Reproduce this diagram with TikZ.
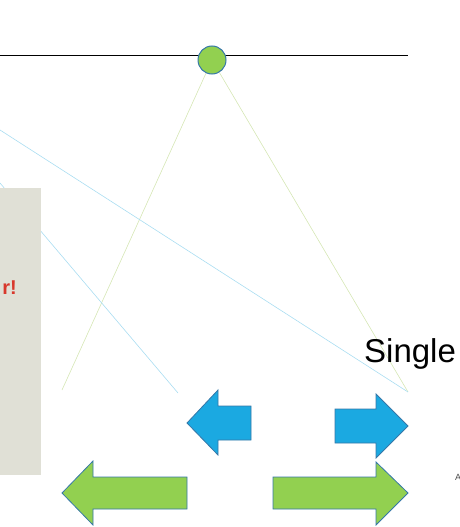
\documentclass[tikz,border=0pt]{standalone}
\usepackage{fontspec}
\setmainfont{Liberation Sans}
\usepackage{xcolor}
\usetikzlibrary{positioning}

\definecolor{hubgreen}{HTML}{92D050}
\definecolor{arrowblue}{HTML}{1BA9E1}
\definecolor{rimblue}{HTML}{3577A8}
\definecolor{thingreen}{HTML}{D5E6B4}
\definecolor{thinblue}{HTML}{A9DDF1}
\definecolor{cardbeige}{HTML}{E0E0D6}
\definecolor{alertred}{HTML}{D8382C}

\begin{document}
\begin{tikzpicture}[x=1pt, y=-1pt, every node/.style={inner sep=0pt}]
        \tikzstyle{hub} = [circle, draw=rimblue, line width=1pt, fill=hubgreen, minimum size=28pt]
        \tikzstyle{greenray} = [draw=thingreen, line width=0.6pt]
        \tikzstyle{blueray} = [draw=thinblue, line width=0.6pt]
        \tikzstyle{bluearrow} = [draw=rimblue, line width=0.8pt, fill=arrowblue, line join=miter]
        \tikzstyle{greenarrow} = [draw=rimblue, line width=0.8pt, fill=hubgreen, line join=miter]

        \useasboundingbox (0,0) rectangle (459,527);

        \coordinate (hubc) at (212,60);
        \coordinate (lineL) at (0,56);
        \coordinate (lineR) at (408,56);
        \coordinate (rayL) at (62,390);
        \coordinate (rayR) at (408,392);
        \coordinate (blueA) at (0,130);
        \coordinate (blueB) at (0,183);
        \coordinate (blueEnd) at (178,393);

        \draw[black, line width=1pt] (lineL) -- (lineR);
        \draw[greenray] (hubc) -- (rayL);
        \draw[greenray] (hubc) -- (rayR);
        \draw[blueray] (blueA) -- (rayR);
        \draw[blueray] (blueB) -- (blueEnd);
        \node[hub] (hub) at (hubc) {};

        % card on the left
        \fill[cardbeige] (0,188) rectangle (41,475);
        \node[anchor=base east, font=\fontsize{20}{20}\selectfont\bfseries, text=alertred] (alert) at (17,294) {r!};

        \node[anchor=base west, font=\fontsize{33}{33}\selectfont] (single) at (364,362) {Single};
        \node[anchor=base west, font=\fontsize{9}{9}\selectfont, text=black!70] (cut) at (455,480) {A};

        % arrows
        \draw[bluearrow] (187,423) -- (218,390) -- (218,406) -- (251,406) -- (251,440) -- (218,440) -- (218,455) -- cycle;
        \draw[bluearrow] (408,426) -- (376,394) -- (376,409) -- (335,409) -- (335,443) -- (376,443) -- (376,458) -- cycle;
        \draw[greenarrow] (62,493) -- (93,461) -- (93,477) -- (187,477) -- (187,509) -- (93,509) -- (93,525) -- cycle;
        \draw[greenarrow] (408,493) -- (376,462) -- (376,477) -- (273,477) -- (273,509) -- (376,509) -- (376,525) -- cycle;
    \end{tikzpicture}
\end{document}
